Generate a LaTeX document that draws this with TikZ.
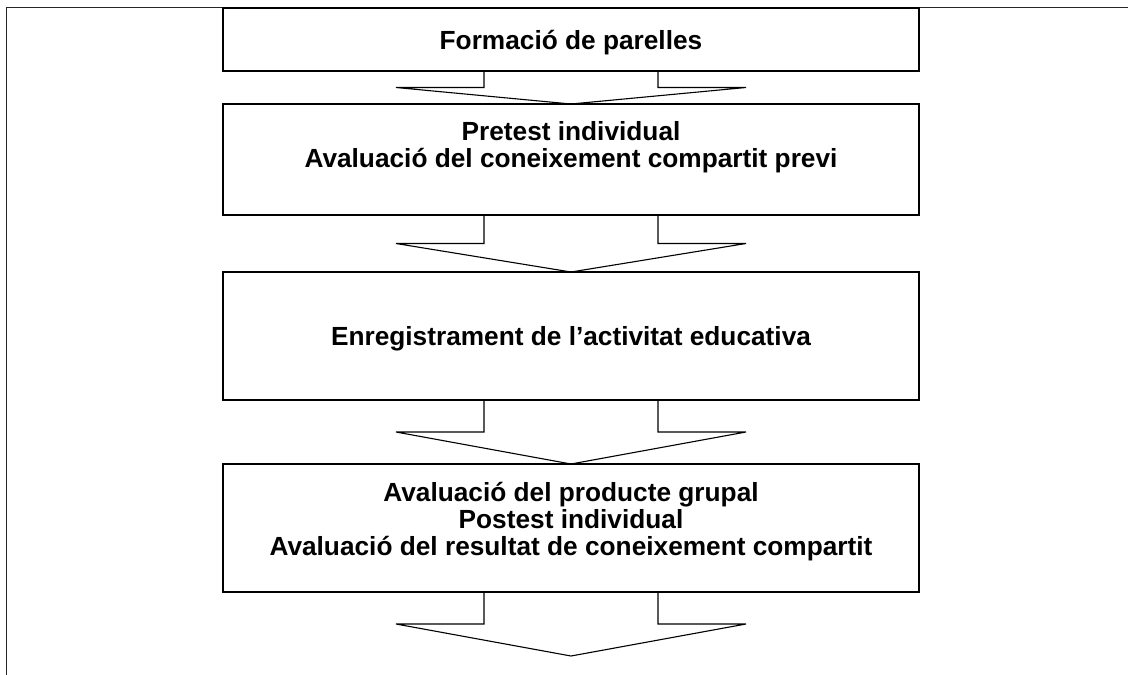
\documentclass[tikz,border=0pt]{standalone}
\usepackage{fontspec}
\setmainfont{Liberation Sans}
\usetikzlibrary{calc}

\tikzset{
  stepbox/.style={draw=black, line width=1.5pt, minimum width=696pt,
    inner sep=0pt, outer sep=0pt},
  % fixed first-line height and last-line depth, so that "anchor=north"
  % lies exactly 21pt above the first baseline
  steptext/.style={font=\bfseries\fontsize{26.25}{27}\selectfont, align=center,
    inner sep=0pt, anchor=north,
    execute at begin node={\rule{0pt}{21pt}},
    execute at end node={\rule[-7pt]{0pt}{7pt}}},
  flowline/.style={draw=black, line width=1.1pt, line join=miter},
  frameline/.style={draw=black!85, line width=0.8pt}
}

% hollow block arrow from the bottom of one box to a tip point
\newcommand\flowarrow[2]{%
  \draw[flowline] let \p1=(#1.south), \p2=(#2) in
    (\x1-87pt,\y1) -- (\x1-87pt,{(\y1+\y2)/2}) -- (\x1-175pt,{(\y1+\y2)/2})
    -- (\p2) -- (\x1+175pt,{(\y1+\y2)/2}) -- (\x1+87pt,{(\y1+\y2)/2})
    -- (\x1+87pt,\y1);
}

\begin{document}
\begin{tikzpicture}[x=1pt, y=-1pt]
  \useasboundingbox (0,0) rectangle (1128,675);

  % page frame
  \draw[frameline] (6,675) -- (6,7) -- (1128,7);

  % steps
  \node[stepbox, minimum height=63pt]  (b1) at (571,39.5) {};
  \node[stepbox, minimum height=111pt] (b2) at (571,159.5) {};
  \node[stepbox, minimum height=128pt] (b3) at (571,336) {};
  \node[stepbox, minimum height=128pt] (b4) at (571,528) {};

  % texts, placed by their first baseline minus 21pt
  \node[steptext] (t1) at (571,28) {Formació de parelles};
  \node[steptext] (t2) at (571,121) {Pretest individual\\Avaluació del coneixement compartit previ};
  \node[steptext] (t3) at (571,324.5) {Enregistrament de l’activitat educativa};
  \node[steptext] (t4) at (571,482) {Avaluació del producte grupal\\Postest individual\\Avaluació del resultat de coneixement compartit};

  \coordinate (end) at (571,656);

  % arrows between steps
  \flowarrow{b1}{b2.north}
  \flowarrow{b2}{b3.north}
  \flowarrow{b3}{b4.north}
  \flowarrow{b4}{end}
\end{tikzpicture}
\end{document}
